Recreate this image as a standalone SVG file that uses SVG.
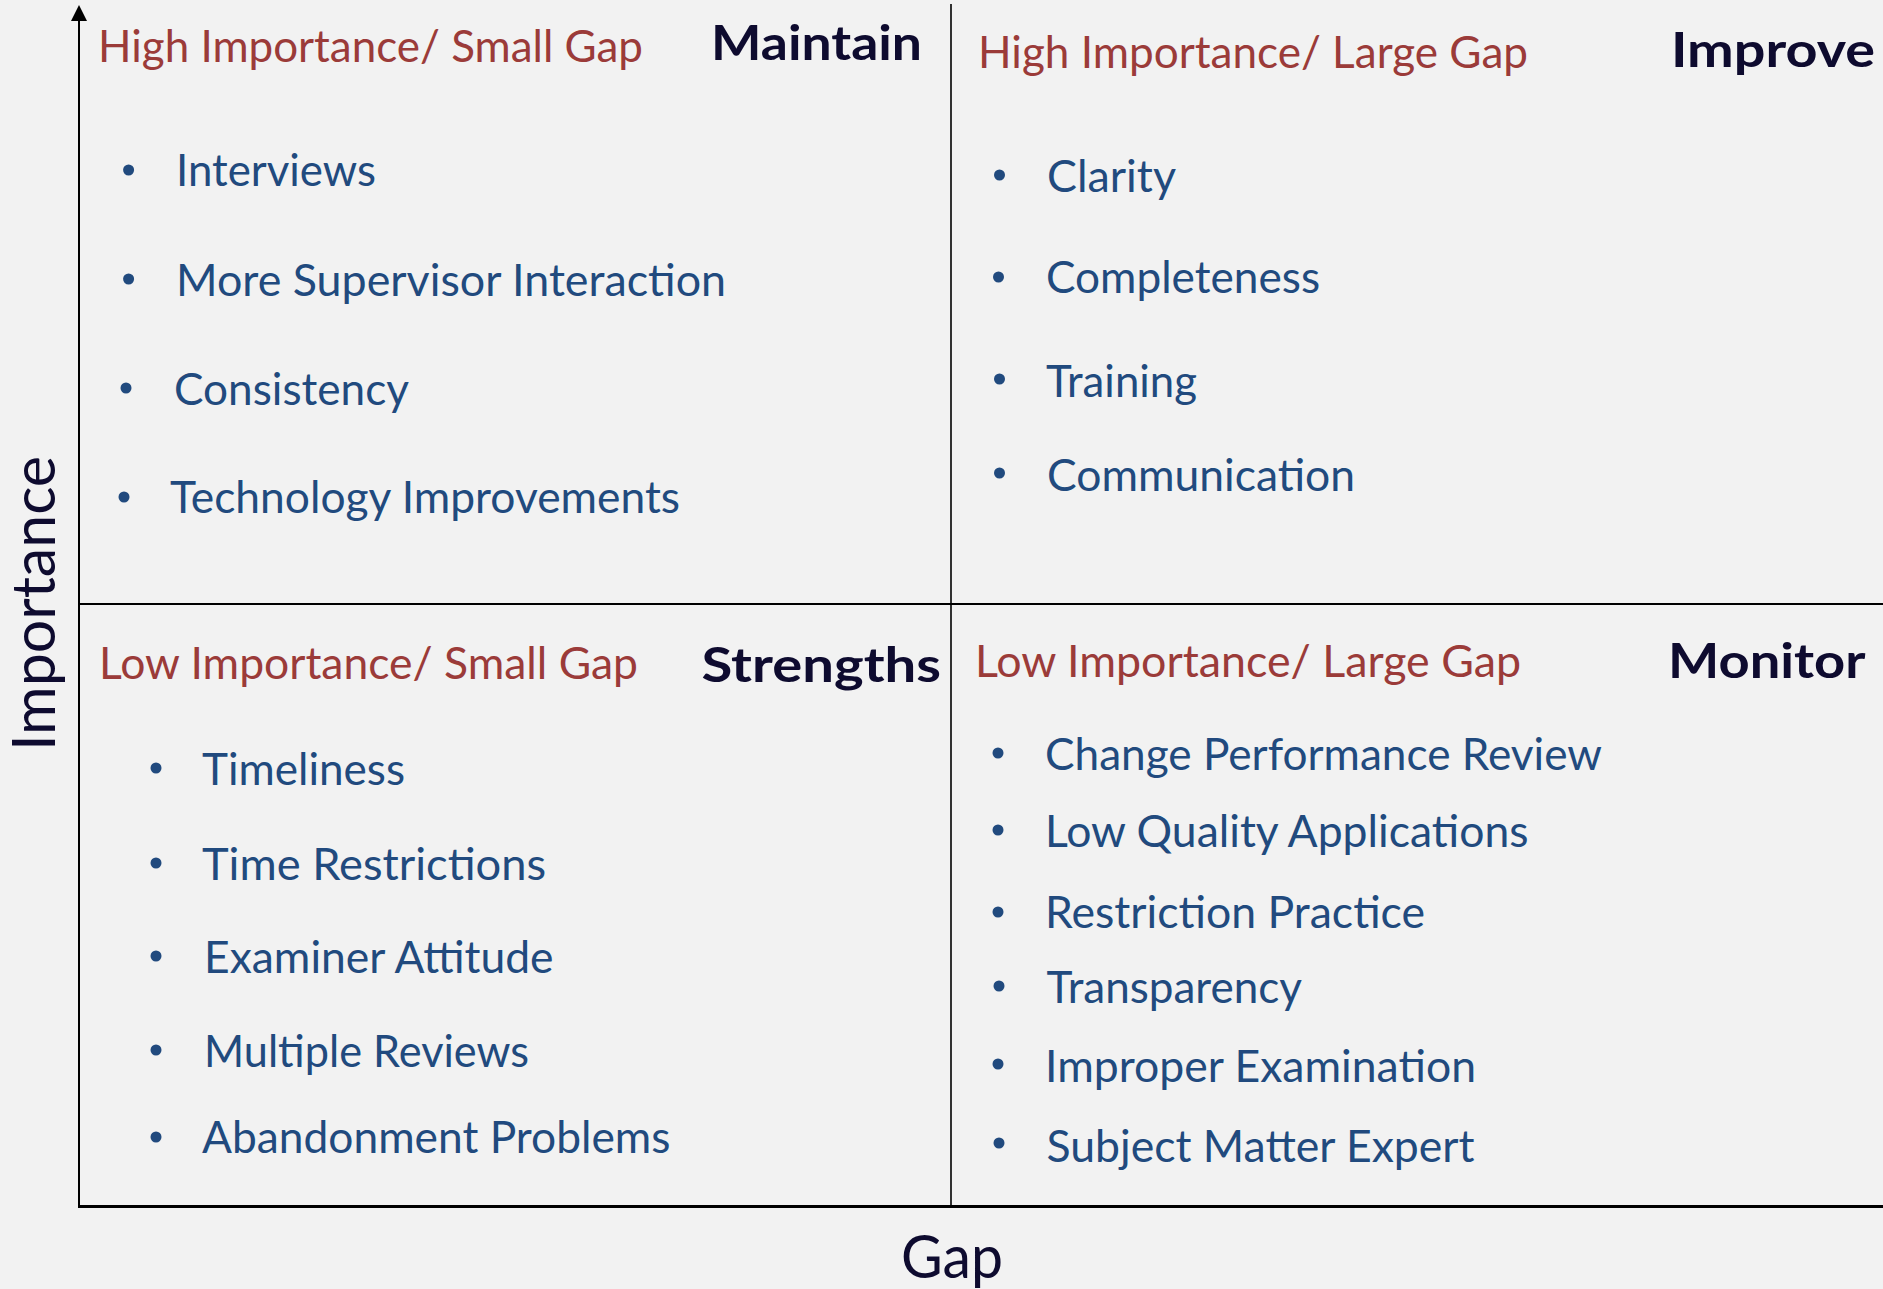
<svg xmlns="http://www.w3.org/2000/svg" width="1883" height="1289" viewBox="0 0 1883 1289">
<defs>
<style>
.bg{fill:#F2F2F2}
.t{font-family:Lato,"Open Sans","Liberation Sans",sans-serif;font-size:45px;fill:#9B3B39}
.h{font-family:Lato,"Open Sans","Liberation Sans",sans-serif;font-size:48px;font-weight:700;fill:#0E0B2F}
.i{font-family:Lato,"Open Sans","Liberation Sans",sans-serif;font-size:45px;fill:#214A7E}
.b{fill:#214A7E}
.ax{font-family:Lato,"Open Sans","Liberation Sans",sans-serif;font-size:60px;fill:#0E0B2F}
.ln{stroke:#000;fill:none}
</style>
</defs>
<rect class="bg" x="0" y="0" width="1883" height="1289"/>

<g id="connectors">
<line class="ln" x1="79" y1="1207" x2="79" y2="20" stroke-width="2"/>
<path d="M79,5 L71,21 L87,21 Z" fill="#000"/>
<line class="ln" x1="951" y1="4" x2="951" y2="1206" stroke-width="1.6"/>
<line class="ln" x1="79" y1="604" x2="1883" y2="604" stroke-width="2"/>
<line class="ln" x1="78" y1="1206.5" x2="1883" y2="1206.5" stroke-width="3"/>
</g>

<g id="axis-labels">
<text class="ax" transform="translate(55,751) rotate(-90)" font-size="55" textLength="295" lengthAdjust="spacingAndGlyphs">Importance</text>
<text class="ax" x="901" y="1278" textLength="102" lengthAdjust="spacingAndGlyphs">Gap</text>
</g>

<g id="q-maintain">
<text class="t" x="98" y="62" textLength="545" lengthAdjust="spacingAndGlyphs">High Importance/ Small Gap</text>
<text class="h" x="711" y="60" textLength="211" lengthAdjust="spacingAndGlyphs">Maintain</text>
<circle class="b" cx="128.6" cy="170" r="5.5"/>
<text class="i" x="176" y="186" textLength="200" lengthAdjust="spacingAndGlyphs">Interviews</text>
<circle class="b" cx="128.6" cy="279" r="5.5"/>
<text class="i" x="176" y="295.5" textLength="550" lengthAdjust="spacingAndGlyphs">More Supervisor Interaction</text>
<circle class="b" cx="126" cy="388" r="5.5"/>
<text class="i" x="174" y="405" textLength="235" lengthAdjust="spacingAndGlyphs">Consistency</text>
<circle class="b" cx="124" cy="497" r="5.5"/>
<text class="i" x="170" y="513" textLength="510" lengthAdjust="spacingAndGlyphs">Technology Improvements</text>
</g>

<g id="q-improve">
<text class="t" x="978" y="68" textLength="550" lengthAdjust="spacingAndGlyphs">High Importance/ Large Gap</text>
<text class="h" x="1671" y="67" textLength="204" lengthAdjust="spacingAndGlyphs">Improve</text>
<circle class="b" cx="999.5" cy="175" r="5.5"/>
<text class="i" x="1047" y="192" textLength="129" lengthAdjust="spacingAndGlyphs">Clarity</text>
<circle class="b" cx="998.5" cy="277" r="5.5"/>
<text class="i" x="1046" y="293" textLength="274" lengthAdjust="spacingAndGlyphs">Completeness</text>
<circle class="b" cx="999.5" cy="379" r="5.5"/>
<text class="i" x="1046" y="396.5" textLength="151" lengthAdjust="spacingAndGlyphs">Training</text>
<circle class="b" cx="999.5" cy="473" r="5.5"/>
<text class="i" x="1047" y="490.5" textLength="308" lengthAdjust="spacingAndGlyphs">Communication</text>
</g>

<g id="q-strengths">
<text class="t" x="99" y="679" textLength="539" lengthAdjust="spacingAndGlyphs">Low Importance/ Small Gap</text>
<text class="h" x="701.5" y="682" textLength="239.5" lengthAdjust="spacingAndGlyphs">Strengths</text>
<circle class="b" cx="156" cy="768" r="5.5"/>
<text class="i" x="202" y="785" textLength="203" lengthAdjust="spacingAndGlyphs">Timeliness</text>
<circle class="b" cx="156" cy="863" r="5.5"/>
<text class="i" x="202" y="880" textLength="344" lengthAdjust="spacingAndGlyphs">Time Restrictions</text>
<circle class="b" cx="156" cy="956" r="5.5"/>
<text class="i" x="204" y="972.5" textLength="349.5" lengthAdjust="spacingAndGlyphs">Examiner Attitude</text>
<circle class="b" cx="156" cy="1050" r="5.5"/>
<text class="i" x="204" y="1066.5" textLength="325" lengthAdjust="spacingAndGlyphs">Multiple Reviews</text>
<circle class="b" cx="156" cy="1137" r="5.5"/>
<text class="i" x="202" y="1153" textLength="468.5" lengthAdjust="spacingAndGlyphs">Abandonment Problems</text>
</g>

<g id="q-monitor">
<text class="t" x="975" y="677" textLength="546" lengthAdjust="spacingAndGlyphs">Low Importance/ Large Gap</text>
<text class="h" x="1668" y="678" textLength="197.5" lengthAdjust="spacingAndGlyphs">Monitor</text>
<circle class="b" cx="998" cy="753" r="5.5"/>
<text class="i" x="1045" y="770" textLength="557" lengthAdjust="spacingAndGlyphs">Change Performance Review</text>
<circle class="b" cx="998" cy="830" r="5.5"/>
<text class="i" x="1045" y="846.5" textLength="483.5" lengthAdjust="spacingAndGlyphs">Low Quality Applications</text>
<circle class="b" cx="998" cy="912" r="5.5"/>
<text class="i" x="1045" y="928" textLength="380" lengthAdjust="spacingAndGlyphs">Restriction Practice</text>
<circle class="b" cx="999" cy="986" r="5.5"/>
<text class="i" x="1046.5" y="1003" textLength="255.5" lengthAdjust="spacingAndGlyphs">Transparency</text>
<circle class="b" cx="998" cy="1064" r="5.5"/>
<text class="i" x="1045" y="1081.5" textLength="431" lengthAdjust="spacingAndGlyphs">Improper Examination</text>
<circle class="b" cx="999" cy="1143" r="5.5"/>
<text class="i" x="1046.5" y="1161.5" textLength="428" lengthAdjust="spacingAndGlyphs">Subject Matter Expert</text>
</g>
</svg>
